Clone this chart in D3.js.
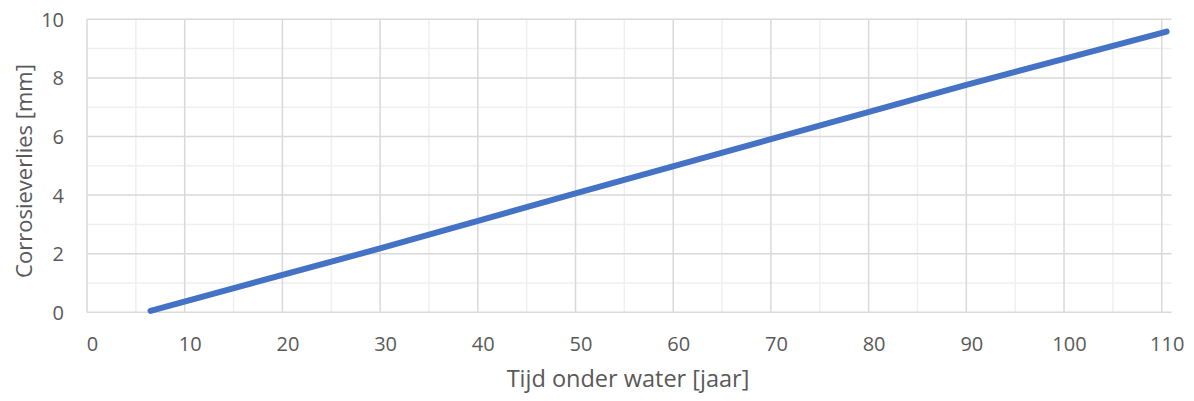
<!DOCTYPE html>
<html>
<head>
<meta charset="utf-8">
<script src="https://cdn.jsdelivr.net/npm/d3@7"></script>
<style>
  html, body { margin: 0; padding: 0; background: #fff; }
  svg { display: block; }
  text { font-family: "Open Sans", Lato, sans-serif; fill: #595959; }
</style>
</head>
<body>
<svg id="chart" width="1194" height="401"></svg>
<script>
// Corrosion loss over time under water
const years = [6.5, 30, 50, 70, 90, 110.5];
const corrosionMm = [0.05, 2.18, 4.06, 5.91, 7.76, 9.58];

const xTicks = [0, 10, 20, 30, 40, 50, 60, 70, 80, 90, 100, 110];
const yTicks = [0, 2, 4, 6, 8, 10];
const xMinorTicks = [5, 15, 25, 35, 45, 55, 65, 75, 85, 95, 105];
const yMinorTicks = [1, 3, 5, 7, 9];

const xTitle = "Tijd onder water [jaar]";
const yTitle = "Corrosieverlies [mm]";

const svg = d3.select("#chart");
const W = 1194, H = 401;
const margin = { left: 87, right: W - 1171.5, top: 19.3, bottom: H - 312.3 };
const fontFamily = "'Open Sans', Lato, sans-serif";

const x = d3.scaleLinear().domain([0, 111]).range([margin.left, W - margin.right]);
const y = d3.scaleLinear().domain([0, 10]).range([H - margin.bottom, margin.top]);

const grid = svg.append("g");

// minor gridlines
grid.selectAll("line.xminor").data(xMinorTicks).join("line")
  .attr("x1", d => x(d)).attr("x2", d => x(d))
  .attr("y1", y(0)).attr("y2", y(10))
  .attr("stroke", "#efefef").attr("stroke-width", 1.5);
grid.selectAll("line.yminor").data(yMinorTicks).join("line")
  .attr("x1", x(0)).attr("x2", x(111))
  .attr("y1", d => y(d)).attr("y2", d => y(d))
  .attr("stroke", "#efefef").attr("stroke-width", 1.5);

// major gridlines
grid.selectAll("line.xmajor").data(xTicks).join("line")
  .attr("x1", d => x(d)).attr("x2", d => x(d))
  .attr("y1", y(0)).attr("y2", y(10))
  .attr("stroke", "#d9d9d9").attr("stroke-width", 1.5);
grid.selectAll("line.ymajor").data(yTicks).join("line")
  .attr("x1", x(0)).attr("x2", x(111))
  .attr("y1", d => y(d)).attr("y2", d => y(d))
  .attr("stroke", "#d9d9d9").attr("stroke-width", 1.5);

// axes (labels only; lines come from the grid)
const xAxis = d3.axisBottom(x).tickValues(xTicks).tickSize(0).tickPadding(0);
const gx = svg.append("g").attr("transform", `translate(5,${y(0) + 32})`).call(xAxis);
gx.select(".domain").remove();
gx.selectAll("text").attr("font-size", 20).attr("fill", "#595959")
  .attr("dy", "0.35em").attr("y", 0)
  .style("font-family", fontFamily);

const yAxis = d3.axisLeft(y).tickValues(yTicks).tickSize(0).tickPadding(0);
const gy = svg.append("g").attr("transform", `translate(64,0)`).call(yAxis);
gy.select(".domain").remove();
gy.selectAll("text").attr("font-size", 20).attr("fill", "#595959")
  .attr("dy", "0.35em").attr("x", 0)
  .style("font-family", fontFamily);

// series line
const line = d3.line().x((d, i) => x(years[i])).y(d => y(d));
svg.append("path")
  .datum(corrosionMm)
  .attr("d", line)
  .attr("fill", "none")
  .attr("stroke", "#4472C4")
  .attr("stroke-width", 6)
  .attr("stroke-linecap", "round")
  .attr("stroke-linejoin", "round");

// axis titles
svg.append("text")
  .attr("x", 628).attr("y", 387)
  .attr("text-anchor", "middle")
  .attr("font-size", 23.5)
  .text(xTitle);

svg.append("text")
  .attr("transform", `translate(32,171) rotate(-90)`)
  .attr("text-anchor", "middle")
  .attr("font-size", 22)
  .text(yTitle);
</script>
</body>
</html>
